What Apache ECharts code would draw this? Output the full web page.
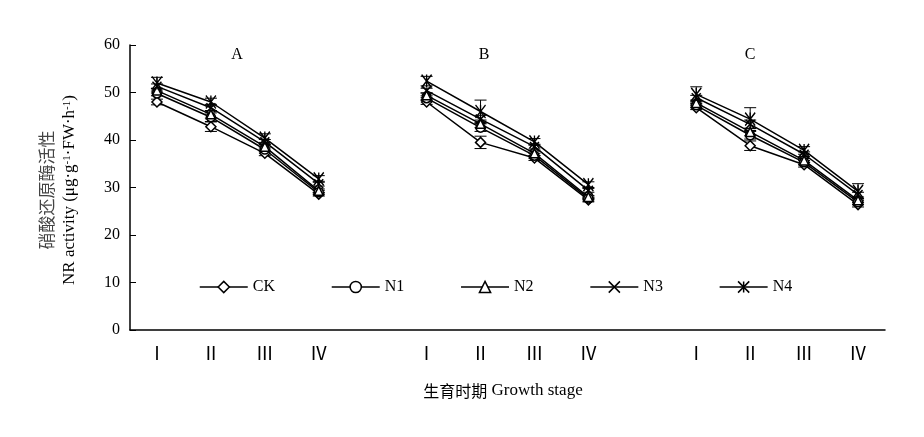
<!DOCTYPE html>
<html>
<head>
<meta charset="utf-8">
<script src="https://cdn.jsdelivr.net/npm/echarts@6/dist/echarts.min.js"></script>
<style>html,body{margin:0;padding:0;background:#fff;}#c{width:924px;height:437px;}</style>
</head>
<body>
<div id="c"></div>
<script>
// categories: 3 panels (A, B, C) x 4 growth stages, separated by blank slots
const stageLabels = ['Ⅰ','Ⅱ','Ⅲ','Ⅳ'];
const panelNames = ['A','B','C'];
const seriesNames = ['CK','N1','N2','N3','N4'];
// values: A(I..IV), B(I..IV), C(I..IV)
const CK = [48.0,42.8,37.2,28.6, 48.0,39.5,36.2,27.4, 46.8,38.8,34.8,26.4];
const N1 = [49.8,44.8,38.0,29.0, 48.8,42.6,36.7,27.7, 47.3,41.0,35.3,26.9];
const N2 = [50.4,45.4,38.6,29.3, 49.4,43.4,37.2,28.0, 47.8,41.7,35.7,27.3];
const N3 = [51.3,46.8,39.6,30.8, 50.4,44.4,38.6,29.4, 48.9,43.3,37.0,28.5];
const N4 = [52.0,48.0,40.4,31.8, 52.4,46.0,39.6,30.6, 49.6,44.4,37.8,29.2];
const errCK = [0.6,1.0,0.5,0.4, 0.5,1.3,0.5,0.4, 0.4,1.0,0.5,0.5];
const errN1 = [0.5,0.9,0.5,0.4, 0.5,0.8,0.5,0.3, 0.4,0.8,0.4,0.4];
const errN2 = [0.5,0.8,0.5,0.4, 0.5,0.8,0.5,0.3, 0.4,0.8,0.4,0.4];
const errN3 = [0.5,0.7,0.5,0.5, 0.5,0.8,0.5,0.4, 0.5,0.9,0.5,0.5];
const errN4 = [1.2,0.8,0.9,0.7, 1.0,2.4,0.7,0.6, 1.6,2.4,0.8,1.6];

const values = [CK,N1,N2,N3,N4];
const errs = [errCK,errN1,errN2,errN3,errN4];
const symbols = [
  'diamond','circle','triangle',
  'path://M0,0L10,10M10,0L0,10',
  'path://M0,0L10,14M10,0L0,14M5,0L5,14'
];
const symbolSizes = [10,9,9,9,[10,13]];

// build 14-slot category list
const cats = [];
const slotIndex = [];
panelNames.forEach((p, pi) => {
  stageLabels.forEach((s) => { slotIndex.push(cats.length); cats.push(s); });
  if (pi < panelNames.length - 1) cats.push('');
});
function toSlots(arr) {
  const out = new Array(cats.length).fill(null);
  arr.forEach((v, i) => { out[slotIndex[i]] = v; });
  return out;
}

const serif = 'Liberation Serif';
const cjk = 'Noto Sans CJK SC';
const chart = echarts.init(document.getElementById('c'), null, {renderer:'canvas'});

const series = [];
values.forEach((arr, k) => {
  const eData = arr.map((v, i) => [slotIndex[i], v, errs[k][i]]);
  series.push({
    type: 'custom',
    name: 'err' + seriesNames[k],
    data: eData,
    z: 1,
    silent: true,
    renderItem: function (params, api) {
      const xi = api.value(0), v = api.value(1), e = api.value(2);
      const p = api.coord([xi, v]);
      const hi = api.coord([xi, v + e]);
      const lo = api.coord([xi, v - e]);
      const st = {stroke:'#000', lineWidth:1};
      return {type:'group', children:[
        {type:'line', shape:{x1:p[0], y1:hi[1], x2:p[0], y2:lo[1]}, style:st},
        {type:'line', shape:{x1:p[0]-6, y1:hi[1], x2:p[0]+6, y2:hi[1]}, style:st},
        {type:'line', shape:{x1:p[0]-6, y1:lo[1], x2:p[0]+6, y2:lo[1]}, style:st}
      ]};
    }
  });
});
values.forEach((arr, k) => {
  series.push({
    type: 'line',
    name: seriesNames[k],
    data: toSlots(arr),
    z: 3,
    symbol: symbols[k],
    symbolSize: symbolSizes[k],
    showAllSymbol: true,
    connectNulls: false,
    lineStyle: {color:'#000', width:1.5},
    itemStyle: {color:'#fff', borderColor:'#000', borderWidth:1.5},
    emphasis: {disabled:true},
    animation: false
  });
});

const titleSpecs = [
  {text:'A', x:237, y:55},
  {text:'B', x:484, y:55},
  {text:'C', x:750, y:55}
];

chart.setOption({
  animation: false,
  backgroundColor: '#fff',
  grid: {left:130, right:39, top:45, bottom:107, containLabel:false},
  legend: {
    data: seriesNames,
    left: 194, top: 274,
    itemWidth: 48, itemHeight: 14, itemGap: 56,
    selectedMode: false,
    textStyle: {fontFamily:serif, fontSize:16, color:'#000', width:24},
    itemStyle: {color:'#fff', borderColor:'#000', borderWidth:1.5},
    lineStyle: {color:'#000', width:1.5}
  },
  xAxis: {
    type: 'category',
    data: cats,
    boundaryGap: true,
    axisLine: {lineStyle:{color:'#000', width:1.5}},
    axisTick: {inside:true, length:5, lineStyle:{color:'#000', width:1}, interval:0},
    axisLabel: {interval:0, margin:14, fontFamily:cjk, fontSize:18, color:'#000'},
    splitLine: {show:false}
  },
  yAxis: {
    type: 'value',
    min: 0, max: 60, interval: 10,
    axisLine: {show:true, lineStyle:{color:'#000', width:1.5}},
    axisTick: {show:true, inside:true, length:6, lineStyle:{color:'#000', width:1}},
    axisLabel: {margin:10, fontFamily:serif, fontSize:16, color:'#000'},
    splitLine: {show:false}
  },
  graphic: titleSpecs.map(t => ({type:'text', x:t.x, y:t.y,
    style:{text:t.text, fontFamily:serif, fontSize:16, fill:'#000', textAlign:'center', textVerticalAlign:'middle'}}))
  .concat([
    {type:'text', x:47, y:190, rotation:Math.PI/2,
      style:{text:'硝酸还原酶活性', fontFamily:cjk, fontSize:17, fill:'#444',
        textAlign:'center', textVerticalAlign:'middle'}},
    {type:'text', x:70, y:190, rotation:Math.PI/2,
      style:{text:'NR activity (μg·g{s|-1}·FW·h{s|-1})', fontFamily:serif, fontSize:17, fill:'#000',
        textAlign:'center', textVerticalAlign:'middle',
        rich:{s:{fontFamily:serif, fontSize:11, verticalAlign:'top', lineHeight:11, padding:[0,0,8,0]}}}},
    {type:'text', x:503, y:391,
      style:{text:'{c|生育时期} Growth stage', fontFamily:serif, fontSize:17, fill:'#000',
        textAlign:'center', textVerticalAlign:'middle',
        rich:{c:{fontFamily:cjk, fontSize:16}}}}
  ]),
  series: series
});
</script>
</body>
</html>
